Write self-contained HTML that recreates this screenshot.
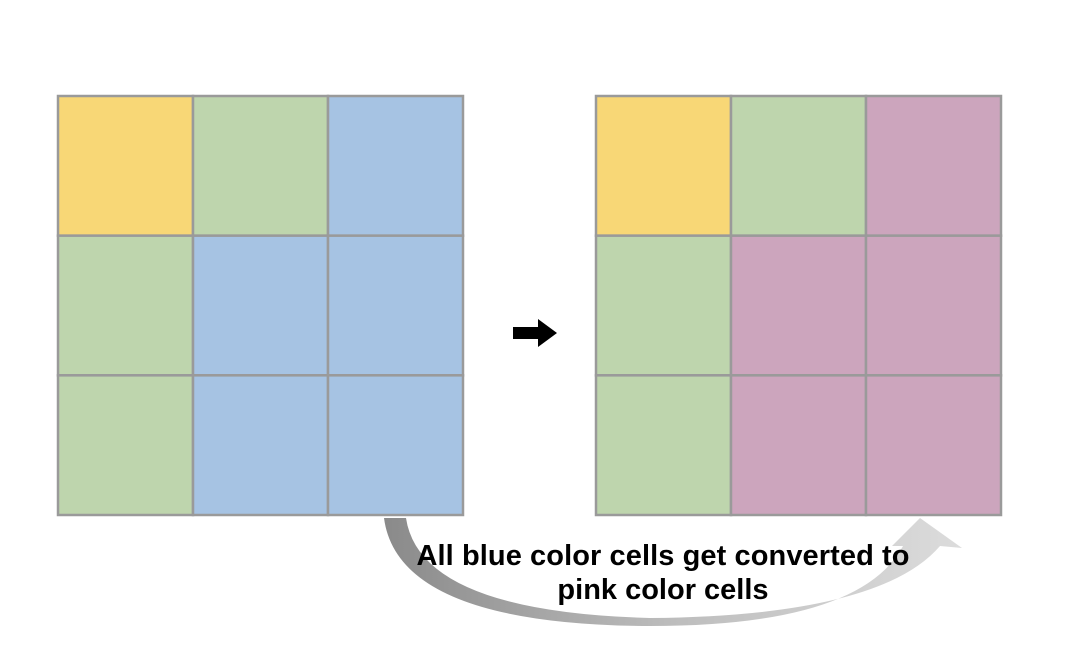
<!DOCTYPE html>
<html><head><meta charset="utf-8"><style>
body{margin:0;background:#fff;}
svg{display:block}
</style></head><body>
<svg width="1074" height="658" viewBox="0 0 1074 658">
<defs>
<linearGradient id="g" x1="0" x2="1" y1="0" y2="0">
<stop offset="0" stop-color="#8a8a8a"/><stop offset="0.5" stop-color="#bdbdbd"/><stop offset="1" stop-color="#dcdcdc"/>
</linearGradient>
</defs>
<g id="grids"></g>
<polygon points="513,327 538,327 538,319 557,333 538,347 538,339 513,339" fill="#000"/>
<path fill="url(#g)" d="M384,518 Q398,625 650,626 Q860,626 903,546 L892,546 L920,518 L962,548 L940,546 Q880,616 650,618 Q420,612 406,518 Z"/>
<text x="663" y="565" text-anchor="middle" font-family="Liberation Sans, sans-serif" font-weight="bold" font-size="29" textLength="493" fill="#000">All blue color cells get converted to</text>
<text x="663" y="599" text-anchor="middle" font-family="Liberation Sans, sans-serif" font-weight="bold" font-size="29" fill="#000">pink color cells</text>
</svg>
<script>
const C={y:'#f8d776',g:'#bed5ad',b:'#a6c3e3',p:'#cca5bd'};
const left=[['y','g','b'],['g','b','b'],['g','b','b']];
const right=[['y','g','p'],['g','p','p'],['g','p','p']];
const g=document.getElementById('grids');
const NS='http://www.w3.org/2000/svg';
function draw(grid,x0,name){
  const w=(463-58)/3,h=(515-96)/3;
  grid.forEach((row,r)=>row.forEach((c,k)=>{
    const rc=document.createElementNS(NS,'rect');
    rc.setAttribute('x',x0+k*w);rc.setAttribute('y',96+r*h);
    rc.setAttribute('width',w);rc.setAttribute('height',h);
    rc.setAttribute('fill',C[c]);rc.setAttribute('stroke','#9a9a9a');rc.setAttribute('stroke-width','2.5');
    
    
    g.appendChild(rc);
  }));
}
draw(left,58,'input-grid');
draw(right,596,'output-grid');
</script>
</body></html>
